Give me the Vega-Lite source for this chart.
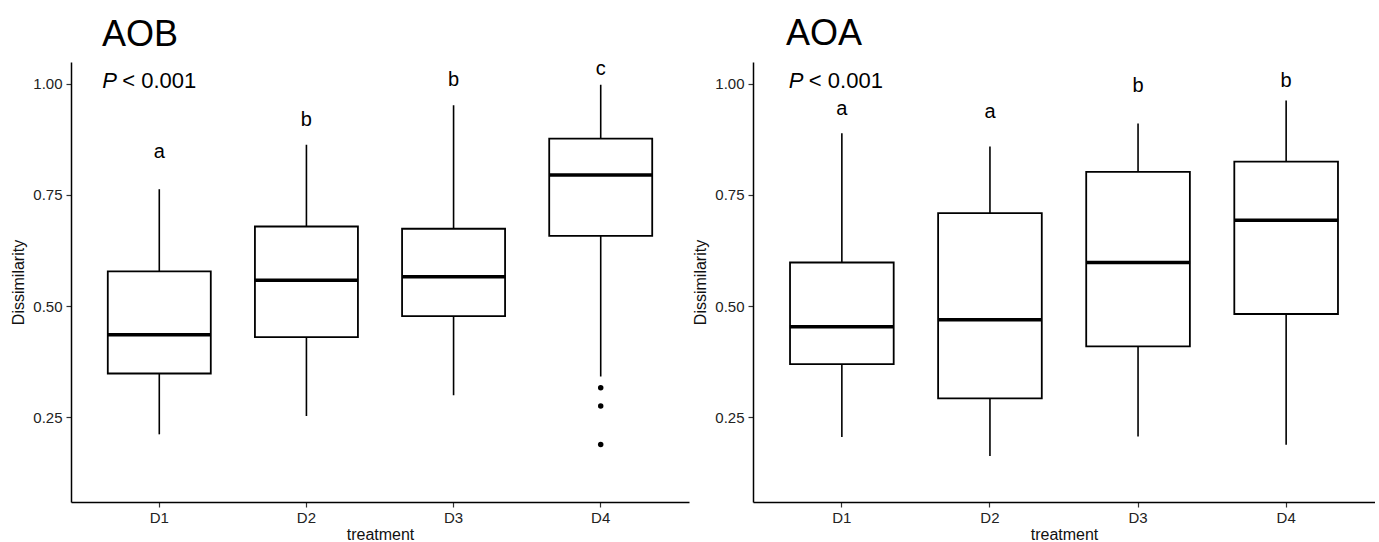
{
  "$schema": "https://vega.github.io/schema/vega-lite/v6.json",
  "padding": {"left": 10, "top": 16, "right": 0, "bottom": 0},
  "background": "white",
  "spacing": 3,
  "datasets": {
    "aob": [
      {"treatment": "D1", "low": 0.211, "q1": 0.348, "median": 0.435, "q3": 0.578, "high": 0.763},
      {"treatment": "D2", "low": 0.252, "q1": 0.430, "median": 0.558, "q3": 0.679, "high": 0.863},
      {"treatment": "D3", "low": 0.299, "q1": 0.477, "median": 0.566, "q3": 0.674, "high": 0.952},
      {"treatment": "D4", "low": 0.341, "q1": 0.658, "median": 0.795, "q3": 0.877, "high": 0.998}
    ],
    "aob_out": [
      {"treatment": "D4", "value": 0.316},
      {"treatment": "D4", "value": 0.275},
      {"treatment": "D4", "value": 0.188}
    ],
    "aob_lab": [
      {"treatment": "D1", "y": 0.847, "letter": "a"},
      {"treatment": "D2", "y": 0.92, "letter": "b"},
      {"treatment": "D3", "y": 1.01, "letter": "b"},
      {"treatment": "D4", "y": 1.034, "letter": "c"}
    ],
    "aoa": [
      {"treatment": "D1", "low": 0.205, "q1": 0.369, "median": 0.453, "q3": 0.598, "high": 0.889},
      {"treatment": "D2", "low": 0.162, "q1": 0.292, "median": 0.469, "q3": 0.709, "high": 0.859},
      {"treatment": "D3", "low": 0.206, "q1": 0.409, "median": 0.598, "q3": 0.802, "high": 0.911},
      {"treatment": "D4", "low": 0.1875, "q1": 0.482, "median": 0.693, "q3": 0.825, "high": 0.963}
    ],
    "aoa_lab": [
      {"treatment": "D1", "y": 0.944, "letter": "a"},
      {"treatment": "D2", "y": 0.936, "letter": "a"},
      {"treatment": "D3", "y": 0.996, "letter": "b"},
      {"treatment": "D4", "y": 1.006, "letter": "b"}
    ],
    "ptext": [
      {"treatment": "D1", "y": 1.007, "p": "P", "rest": "< 0.001"}
    ]
  },
  "config": {
    "font": "Liberation Sans",
    "view": {"stroke": null},
    "axis": {
      "domainColor": "black",
      "domainWidth": 1.5,
      "tickColor": "#333333",
      "tickWidth": 1.2,
      "tickSize": 5,
      "labelColor": "#222222",
      "labelFontSize": 15,
      "labelFont": "Liberation Sans",
      "titleFont": "Liberation Sans",
      "titleFontSize": 16,
      "titleFontWeight": "normal",
      "titleColor": "#111111",
      "grid": false,
      "labelPadding": 4
    },
    "title": {"font": "Liberation Sans", "fontSize": 36, "fontWeight": "normal", "anchor": "start", "frame": "group", "color": "black"}
  },
  "hconcat": [
    {
      "title": {"text": "AOB", "dx": 31, "offset": 5},
      "width": 618,
      "height": 440,
      "encoding": {
        "x": {"field": "treatment", "type": "nominal", "scale": {"type": "band", "paddingInner": 0, "paddingOuter": 0.1, "domain": ["D1", "D2", "D3", "D4"]}, "axis": {"title": "treatment", "labelAngle": 0, "titlePadding": 1, "labelPadding": 3}}
      },
      "layer": [
        {
          "data": {"name": "aob"},
          "mark": {"type": "rule", "color": "black", "strokeWidth": 1.6},
          "encoding": {
            "y": {"field": "low", "type": "quantitative", "scale": {"domain": [0.0586, 1.0495], "nice": false, "zero": false}, "axis": {"title": "Dissimilarity", "values": [0.25, 0.5, 0.75, 1.0], "format": ".2f", "titlePadding": 6}},
            "y2": {"field": "high"}
          }
        },
        {
          "data": {"name": "aob"},
          "mark": {"type": "bar", "fill": "white", "stroke": "black", "strokeWidth": 1.8, "width": {"band": 0.7}},
          "encoding": {
            "y": {"field": "q1", "type": "quantitative"},
            "y2": {"field": "q3"}
          }
        },
        {
          "data": {"name": "aob"},
          "mark": {"type": "tick", "color": "black", "opacity": 1, "thickness": 3.5, "size": 103, "orient": "horizontal"},
          "encoding": {"y": {"field": "median", "type": "quantitative"}}
        },
        {
          "data": {"name": "aob_out"},
          "mark": {"type": "point", "filled": true, "color": "black", "size": 30, "opacity": 1},
          "encoding": {"y": {"field": "value", "type": "quantitative"}}
        },
        {
          "data": {"name": "aob_lab"},
          "mark": {"type": "text", "fontSize": 20, "color": "black", "baseline": "middle"},
          "encoding": {"y": {"field": "y", "type": "quantitative"}, "text": {"field": "letter"}}
        },
        {
          "data": {"name": "ptext"},
          "mark": {"type": "text", "fontSize": 22, "fontStyle": "italic", "color": "black", "align": "left", "baseline": "middle", "dx": -57},
          "encoding": {"y": {"field": "y", "type": "quantitative"}, "text": {"field": "p"}}
        },
        {
          "data": {"name": "ptext"},
          "mark": {"type": "text", "fontSize": 22, "color": "black", "align": "left", "baseline": "middle", "dx": -37},
          "encoding": {"y": {"field": "y", "type": "quantitative"}, "text": {"field": "rest"}}
        }
      ]
    },
    {
      "title": {"text": "AOA", "dx": 33, "offset": 9},
      "width": 622,
      "height": 440,
      "encoding": {
        "x": {"field": "treatment", "type": "nominal", "scale": {"type": "band", "paddingInner": 0, "paddingOuter": 0.1, "domain": ["D1", "D2", "D3", "D4"]}, "axis": {"title": "treatment", "labelAngle": 0, "titlePadding": 1, "labelPadding": 3}}
      },
      "layer": [
        {
          "data": {"name": "aoa"},
          "mark": {"type": "rule", "color": "black", "strokeWidth": 1.6},
          "encoding": {
            "y": {"field": "low", "type": "quantitative", "scale": {"domain": [0.0586, 1.0495], "nice": false, "zero": false}, "axis": {"title": "Dissimilarity", "values": [0.25, 0.5, 0.75, 1.0], "format": ".2f", "titlePadding": 6}},
            "y2": {"field": "high"}
          }
        },
        {
          "data": {"name": "aoa"},
          "mark": {"type": "bar", "fill": "white", "stroke": "black", "strokeWidth": 1.8, "width": {"band": 0.7}},
          "encoding": {
            "y": {"field": "q1", "type": "quantitative"},
            "y2": {"field": "q3"}
          }
        },
        {
          "data": {"name": "aoa"},
          "mark": {"type": "tick", "color": "black", "opacity": 1, "thickness": 3.5, "size": 104, "orient": "horizontal"},
          "encoding": {"y": {"field": "median", "type": "quantitative"}}
        },
        {
          "data": {"name": "aoa_lab"},
          "mark": {"type": "text", "fontSize": 20, "color": "black", "baseline": "middle"},
          "encoding": {"y": {"field": "y", "type": "quantitative"}, "text": {"field": "letter"}}
        },
        {
          "data": {"name": "ptext"},
          "mark": {"type": "text", "fontSize": 22, "fontStyle": "italic", "color": "black", "align": "left", "baseline": "middle", "dx": -53},
          "encoding": {"y": {"field": "y", "type": "quantitative"}, "text": {"field": "p"}}
        },
        {
          "data": {"name": "ptext"},
          "mark": {"type": "text", "fontSize": 22, "color": "black", "align": "left", "baseline": "middle", "dx": -33},
          "encoding": {"y": {"field": "y", "type": "quantitative"}, "text": {"field": "rest"}}
        }
      ]
    }
  ]
}
